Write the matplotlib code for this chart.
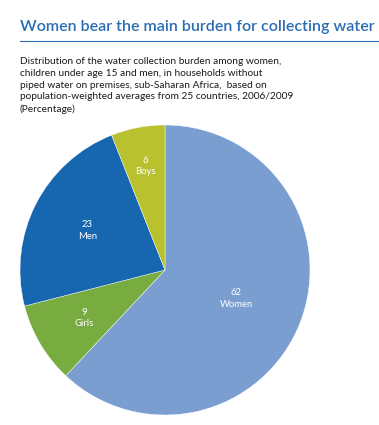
import matplotlib
matplotlib.use("Agg")
import matplotlib.pyplot as plt
import numpy as np

categories = ["Women", "Girls", "Men", "Boys"]
values = [62, 9, 23, 6]
colors = ["#7A9ED0", "#78AB40", "#1666B0", "#B9C22E"]
label_dist = [0.53, 0.65, 0.6, 0.73]

title = "Women bear the main burden for collecting water"
subtitle = ("Distribution of the water collection burden among women,\n"
            "children under age 15 and men, in households without\n"
            "piped water on premises, sub-Saharan Africa,  based on\n"
            "population-weighted averages from 25 countries, 2006/2009\n"
            "(Percentage)")

W, H = 379, 425
fig = plt.figure(figsize=(W / 100, H / 100), dpi=100)
fig.patch.set_facecolor("white")

fig.text(20 / W, 1 - 27 / H, title, color="#2B6DB4", fontsize=11.5,
         fontweight="semibold", family="Lato", va="center", ha="left")
fig.add_artist(plt.Line2D([20 / W, 1.0], [1 - 41 / H, 1 - 41 / H],
                          color="#2B6DB4", lw=0.8))
fig.text(20 / W, 1 - 57 / H, subtitle, color="#1a1a1a", fontsize=7.3,
         family="Lato", va="top", ha="left", linespacing=1.4)

r = 145
cx, cy = 165, 270
ax = fig.add_axes([(cx - r) / W, 1 - (cy + r) / H, 2 * r / W, 2 * r / H])
wedges, _ = ax.pie(values, colors=colors, startangle=90, counterclock=False,
                   radius=1.0, wedgeprops=dict(linewidth=0.3, edgecolor="white"))
for w, v, n, d in zip(wedges, values, categories, label_dist):
    ang = np.deg2rad((w.theta1 + w.theta2) / 2)
    ax.text(d * np.cos(ang), d * np.sin(ang), f"{v}\n{n}", color="white",
            fontsize=6.8, family="Lato", ha="center", va="center", linespacing=1.4)
ax.set_xlim(-1, 1)
ax.set_ylim(-1, 1)
ax.set_aspect("equal")
ax.axis("off")

fig.savefig("out.png", dpi=100, facecolor="white")
